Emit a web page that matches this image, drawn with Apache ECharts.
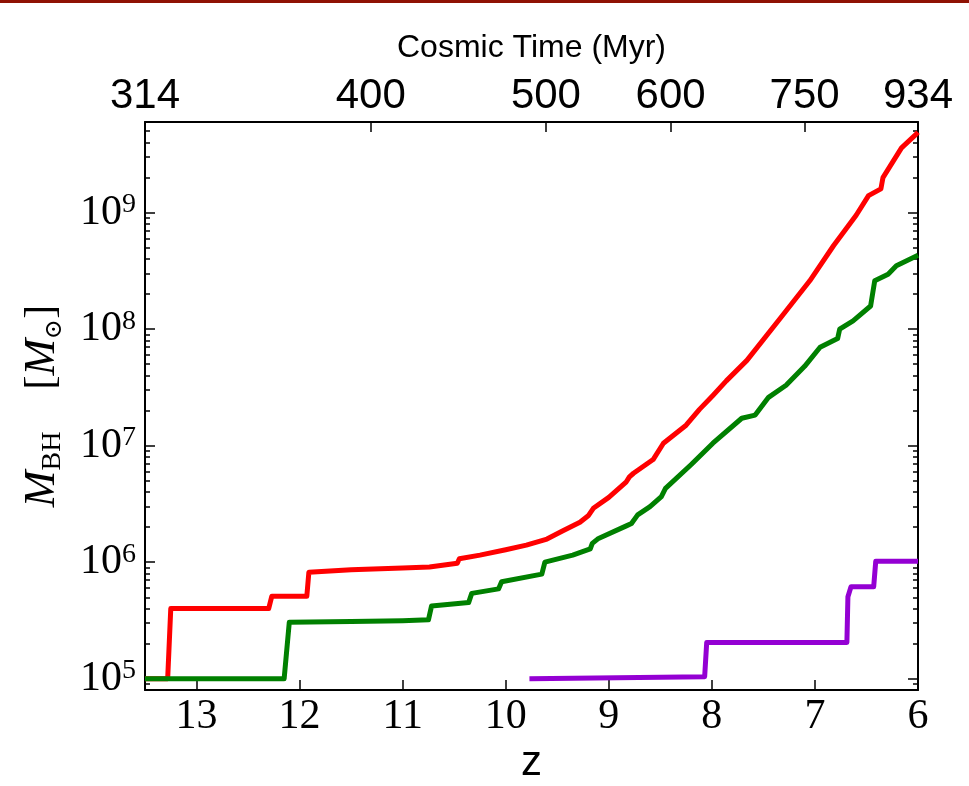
<!DOCTYPE html>
<html>
<head>
<meta charset="utf-8">
<script src="https://cdn.jsdelivr.net/npm/echarts@6/dist/echarts.min.js"></script>
<style>
  html, body { margin: 0; padding: 0; background: #fff; }
  #chart { width: 969px; height: 786px; }
</style>
</head>
<body>
<div id="chart"></div>
<script>
// Redshift axis ticks (bottom) and cosmic-time ticks (top)
const zTicks = [6, 7, 8, 9, 10, 11, 12, 13];
const timeTickZ = [13.5, 11.31, 9.61, 8.40, 7.10, 6.0];
const timeTickLabels = ['314', '400', '500', '600', '750', '934'];
const massMajorTicks = [1e5, 1e6, 1e7, 1e8, 1e9];

// Black hole mass growth tracks: redshift and mass (solar masses)
const zRed = [13.5, 13.28, 13.25, 12.30, 12.27, 11.93, 11.91, 11.5, 11.0, 10.74, 10.47, 10.45,
  10.25, 10.0, 9.8, 9.6, 9.45, 9.28, 9.2, 9.15, 9.0, 8.83, 8.8, 8.76, 8.57, 8.47, 8.25, 8.12,
  7.99, 7.86, 7.66, 7.34, 7.05, 6.82, 6.6, 6.48, 6.36, 6.34, 6.16, 6.03, 6.0];
const mRed = [1.0e5, 1.0e5, 4.0e5, 4.0e5, 5.1e5, 5.1e5, 8.2e5, 8.6e5, 8.9e5, 9.1e5, 9.8e5, 1.07e6,
  1.15e6, 1.28e6, 1.4e6, 1.58e6, 1.85e6, 2.2e6, 2.5e6, 2.9e6, 3.6e6, 4.9e6, 5.4e6, 5.8e6, 7.6e6, 1.05e7, 1.5e7, 2.05e7,
  2.7e7, 3.6e7, 5.4e7, 1.23e8, 2.6e8, 5.2e8, 9.5e8, 1.4e9, 1.6e9, 2.0e9, 3.6e9, 4.6e9, 4.9e9];

const zGreen = [13.5, 12.15, 12.10, 11.5, 11.0, 10.75, 10.72, 10.36, 10.33, 10.07, 10.04, 9.65, 9.62,
  9.35, 9.18, 9.16, 9.10, 8.83, 8.78, 8.72, 8.6, 8.49, 8.45, 8.2, 7.99, 7.71, 7.58, 7.45, 7.28,
  7.1, 6.95, 6.78, 6.76, 6.63, 6.46, 6.42, 6.29, 6.21, 6.0];
const mGreen = [1.0e5, 1.0e5, 3.05e5, 3.1e5, 3.15e5, 3.2e5, 4.2e5, 4.5e5, 5.4e5, 5.9e5, 6.8e5, 7.9e5, 1.0e6,
  1.15e6, 1.3e6, 1.45e6, 1.6e6, 2.05e6, 2.15e6, 2.55e6, 3.0e6, 3.66e6, 4.3e6, 6.9e6, 1.05e7, 1.72e7, 1.83e7, 2.6e7, 3.3e7,
  4.8e7, 7.0e7, 8.3e7, 1.0e8, 1.18e8, 1.58e8, 2.6e8, 2.96e8, 3.5e8, 4.3e8];

const zPurple = [9.77, 8.07, 8.05, 6.69, 6.68, 6.65, 6.43, 6.41, 6.0];
const mPurple = [1.0e5, 1.04e5, 2.05e5, 2.05e5, 5.05e5, 6.15e5, 6.15e5, 1.02e6, 1.02e6];

const pairs = (zs, ms) => zs.map((z, i) => [z, ms[i]]);

// minor log ticks: 2..9 times each decade inside the axis range
const yMin = 8e4, yMax = 6e9;
const massMinorTicks = [];
for (let e = 4; e <= 9; e++) {
  for (let k = 2; k <= 9; k++) {
    const v = k * Math.pow(10, e);
    if (v >= yMin && v <= yMax) massMinorTicks.push(v);
  }
}

const SERIF = 'Liberation Serif';
const SANS = 'Liberation Sans';
const black = '#000';

function yAxisDef(position, ticks, length, withLabels, withLine) {
  return {
    type: 'log', logBase: 10, min: yMin, max: yMax, position: position, gridIndex: 0,
    splitLine: { show: false },
    axisLine: { show: withLine, lineStyle: { color: black, width: 2 } },
    axisTick: { show: true, inside: true, length: length, customValues: ticks,
      lineStyle: { color: black, width: 1.5 } },
    axisLabel: withLabels ? {
      show: true, customValues: ticks, margin: 9,
      formatter: v => '{b|10}{s|' + Math.round(Math.log10(v)) + '}',
      rich: {
        b: { fontFamily: SERIF, fontSize: 42, color: black, lineHeight: 44 },
        s: { fontFamily: SERIF, fontSize: 28, color: black, verticalAlign: 'top', lineHeight: 30 }
      }
    } : { show: false }
  };
}

const chart = echarts.init(document.getElementById('chart'), null, { renderer: 'canvas' });
chart.setOption({
  backgroundColor: '#fff',
  animation: false,
  grid: { left: 145, right: 51, top: 122, bottom: 96, containLabel: false, outerBoundsMode: 'none' },
  graphic: [{
    type: 'rect', left: 0, top: 0, z: 100,
    shape: { width: 969, height: 3 },
    style: { fill: '#8f1204' }
  }],
  xAxis: [{
    type: 'value', min: 6, max: 13.5, inverse: true, position: 'bottom',
    name: 'z', nameLocation: 'middle', nameGap: 40,
    nameTextStyle: { fontFamily: SANS, fontSize: 42, color: black },
    splitLine: { show: false },
    axisLine: { show: true, lineStyle: { color: black, width: 2 } },
    axisTick: { show: true, inside: true, length: 10, customValues: zTicks,
      lineStyle: { color: black, width: 1.5 } },
    axisLabel: { show: true, customValues: zTicks, margin: 6,
      fontFamily: SERIF, fontSize: 42, color: black }
  }, {
    type: 'value', min: 6, max: 13.5, inverse: true, position: 'top',
    name: 'Cosmic Time (Myr)', nameLocation: 'middle', nameGap: 58,
    nameTextStyle: { fontFamily: SANS, fontSize: 32, color: black },
    splitLine: { show: false },
    axisLine: { show: true, lineStyle: { color: black, width: 2 } },
    axisTick: { show: true, inside: true, length: 10, customValues: timeTickZ,
      lineStyle: { color: black, width: 1.5 } },
    axisLabel: { show: true, customValues: timeTickZ, margin: 5,
      fontFamily: SANS, fontSize: 42, color: black,
      formatter: v => {
        let best = 0;
        timeTickZ.forEach((z, i) => { if (Math.abs(z - v) < Math.abs(timeTickZ[best] - v)) best = i; });
        return timeTickLabels[best];
      }
    }
  }],
  yAxis: [
    Object.assign(yAxisDef('left', massMajorTicks, 10, true, true), {
      name: '{m|M}{sub|BH}{br|    [}{m|M}{sub2|⊙}{br|]}',
      nameLocation: 'middle', nameGap: 78, nameRotate: 90,
      nameTextStyle: {
        rich: {
          m: { fontFamily: SERIF, fontStyle: 'italic', fontSize: 44, color: black, lineHeight: 50 },
          sub: { fontFamily: SERIF, fontSize: 28, color: black, verticalAlign: 'bottom', lineHeight: 50 },
          sub2: { fontFamily: 'DejaVu Serif', fontSize: 24, color: black, verticalAlign: 'bottom', lineHeight: 50 },
          br: { fontFamily: SERIF, fontSize: 42, color: black, lineHeight: 50 }
        }
      }
    }),
    yAxisDef('right', massMajorTicks, 10, false, true),
    yAxisDef('left', massMinorTicks, 5, false, false),
    yAxisDef('right', massMinorTicks, 5, false, false)
  ],
  series: [
    { name: 'red', type: 'line', xAxisIndex: 0, yAxisIndex: 0, data: pairs(zRed, mRed),
      showSymbol: false, smooth: false, lineStyle: { color: '#ff0000', width: 5, join: 'round' }, z: 3 },
    { name: 'green', type: 'line', xAxisIndex: 0, yAxisIndex: 0, data: pairs(zGreen, mGreen),
      showSymbol: false, smooth: false, lineStyle: { color: '#008000', width: 5, join: 'round' }, z: 4 },
    { name: 'purple', type: 'line', xAxisIndex: 0, yAxisIndex: 0, data: pairs(zPurple, mPurple),
      showSymbol: false, smooth: false, lineStyle: { color: '#9400d3', width: 5, join: 'round' }, z: 5 }
  ]
});
</script>
</body>
</html>
